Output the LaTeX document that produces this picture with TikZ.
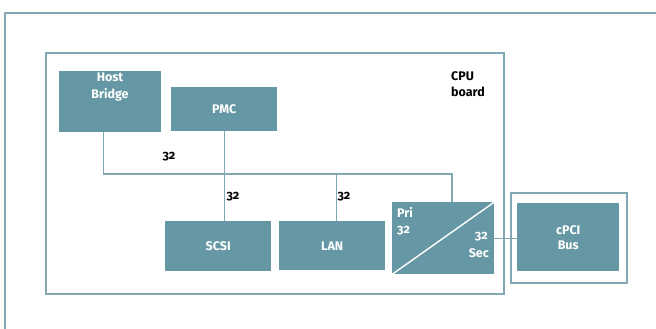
\documentclass[tikz,border=0pt]{standalone}
\usepackage{fontspec}
\setmainfont{Fira Sans}[Numbers=OldStyle]
\definecolor{boxfill}{HTML}{6598A4}
\definecolor{linec}{HTML}{80A9B3}
\begin{document}
\begin{tikzpicture}[x=1pt,y=-1pt,
  frame/.style={draw=linec, line width=1.6pt},
  blk/.style={fill=boxfill, draw=none, anchor=north west, inner sep=0pt, text=white, font=\fontsize{12.5}{15}\selectfont\bfseries, align=center},
  wire/.style={draw=linec, line width=1.4pt},
  num/.style={font=\fontsize{12.5}{14}\selectfont\bfseries, text=black, inner sep=0pt},
  wnum/.style={font=\fontsize{12.5}{15}\selectfont\bfseries, text=white, inner sep=0pt}
]
\useasboundingbox (0,0) rectangle (656,329);
\begin{scope}
\clip (0,0) rectangle (656,329);
\draw[frame] (5,340) -- (5,13) -- (670,13);
\end{scope}
% CPU board
\node[frame, anchor=north west, minimum width=458pt, minimum height=241pt, inner sep=0pt] (cpu) at (45,52) {};
\node[font=\fontsize{12.5}{16}\selectfont\bfseries, align=left, anchor=north west, inner sep=0pt] (cputxt) at (451,71) {CPU\\board};
% blocks
\node[blk, minimum width=102pt, minimum height=61pt] (hb) at (59,71) {};
\node[wnum, align=center, anchor=north, font=\fontsize{12.5}{17}\selectfont\bfseries] (hbtxt) at (110,73) {Host\\Bridge};
\node[blk, minimum width=106pt, minimum height=44pt] (pmc) at (171,87) {PMC};
\node[blk, minimum width=106pt, minimum height=50pt] (scsi) at (165,221) {SCSI};
\node[blk, minimum width=106pt, minimum height=49pt] (lan) at (279,221) {LAN};
\node[blk, minimum width=102pt, minimum height=72pt] (br) at (392,202) {};
\draw[white, line width=1.4pt] (br.south west) -- (br.north east);
\node[wnum, anchor=north west] (pri) at (397,207) {Pri};
\node[wnum, anchor=north west] (p32) at (397,226) {32};
\node[wnum, anchor=north east] (s32) at (488,232) {32};
\node[wnum, anchor=north east] (sec) at (489,248) {Sec};
% cPCI
\node[frame, anchor=north west, minimum width=116pt, minimum height=90pt, inner sep=0pt] (cframe) at (510,192) {};
\node[blk, minimum width=102pt, minimum height=68pt] (cpci) at (517,203) {cPCI\\Bus};
% wires
\coordinate (bj) at (452,174);
\draw[wire] ([xshift=-7pt]hb.south) |- (bj) -- (bj |- br.north);
\draw[wire] (pmc.south) -- (pmc.south |- scsi.north);
\draw[wire] ([xshift=4pt]lan.north) -- ([xshift=4pt]lan.north |- bj);
\draw[wire] (br.east) -- (br.east -| cpci.west);
% labels
\node[num] (l1) at (169,157) {32};
\node[num] (l2) at (233,197) {32};
\node[num] (l3) at (344,197) {32};
\end{tikzpicture}
\end{document}
